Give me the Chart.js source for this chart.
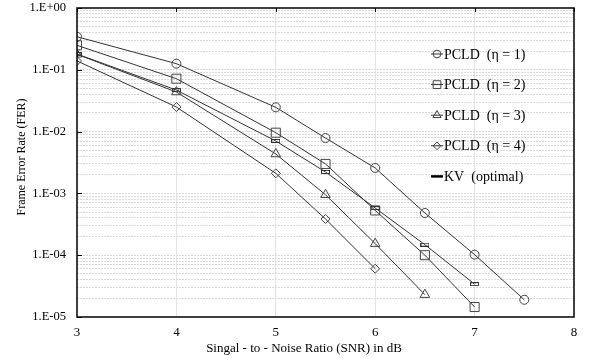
<!DOCTYPE html>
<html><head><meta charset="utf-8">
<script src="https://cdn.jsdelivr.net/npm/chart.js@4"></script>
<style>html,body{margin:0;padding:0;background:#fff}#wrap{width:589px;height:358px;position:relative}</style>
</head><body><div id="wrap"><canvas id="c"></canvas></div>
<script>
// ---- data ----
const snr1 = [3, 4, 5, 5.5, 6, 6.5, 7, 7.5];
const fer1 = [0.343, 0.1256, 0.0247, 0.00787, 0.00258, 0.000482, 0.000102, 0.000019];
const snr2 = [3, 4, 5, 5.5, 6, 6.5, 7];
const fer2 = [0.249, 0.0718, 0.0096, 0.0030, 0.00053, 0.000100, 0.0000145];
const snr3 = [3, 4, 5, 5.5, 6, 6.5];
const fer3 = [0.178, 0.0437, 0.00434, 0.00095, 0.000154, 0.000023];
const snr4 = [3, 4, 5, 5.5, 6];
const fer4 = [0.139, 0.0250, 0.00211, 0.000385, 0.0000605];
const snrKV = [3, 4, 5, 5.5, 6, 6.5, 7];
const ferKV = [0.18, 0.047, 0.00705, 0.00222, 0.00058, 0.000148, 0.000034];
const seriesLabels = ['PCLD  (\u03b7 = 1)', 'PCLD  (\u03b7 = 2)', 'PCLD  (\u03b7 = 3)', 'PCLD  (\u03b7 = 4)', 'KV  (optimal)'];
const xTicks = [3, 4, 5, 6, 7, 8];
const yMajorTicks = [1, 0.1, 0.01, 0.001, 0.0001, 0.00001];
const yTickLabels = ['1.E+00', '1.E-01', '1.E-02', '1.E-03', '1.E-04', '1.E-05'];
const xTitle = 'Singal - to - Noise Ratio (SNR) in dB';
const yTitle = 'Frame Error Rate (FER)';

// all y grid values (majors + minors 2..9 in each decade)
const yAllTicks = [];
yMajorTicks.forEach((m, i) => {
  yAllTicks.push(m);
  if (i > 0) for (let k = 2; k <= 9; k++) yAllTicks.push(m * k);
});

const pts = (xs, ys) => xs.map((x, i) => ({x: x, y: ys[i]}));

// KV marker: small outlined bar
const kvMark = document.createElement('canvas');
kvMark.width = 9; kvMark.height = 4;
(function(){const g = kvMark.getContext('2d'); g.strokeStyle = '#333'; g.lineWidth = 1; g.strokeRect(0.5, 0.5, 8, 3);})();

const FONT = 'Liberation Serif, Times New Roman, serif';
const lineCol = '#333';
const markCol = '#444';

function ds(label, data, style, radius) {
  return {label, data, showLine: true, borderColor: lineCol, borderWidth: 1, tension: 0,
    pointStyle: style, pointRadius: radius, pointHoverRadius: radius,
    pointBorderColor: markCol, pointBackgroundColor: 'rgba(0,0,0,0)', pointBorderWidth: 1};
}

const datasets = [
  ds(seriesLabels[0], pts(snr1, fer1), 'circle', 4.5),
  ds(seriesLabels[1], pts(snr2, fer2), 'rect', 6.4),
  ds(seriesLabels[2], pts(snr3, fer3), 'triangle', 5.5),
  ds(seriesLabels[3], pts(snr4, fer4), 'rectRot', 4.5),
  ds(seriesLabels[4], pts(snrKV, ferKV), kvMark, 4)
];

const decor = {
  id: 'decor',
  afterDraw(chart) {
    const {ctx, chartArea: a, scales: {x, y}} = chart;
    ctx.save();
    ctx.strokeStyle = '#000';
    ctx.lineWidth = 1.5;
    ctx.strokeRect(a.left, a.top, a.right - a.left, a.bottom - a.top);
    ctx.lineWidth = 1;
    yMajorTicks.forEach(v => {
      const py = Math.round(y.getPixelForValue(v)) + 0.5;
      ctx.beginPath(); ctx.moveTo(a.left, py); ctx.lineTo(a.left + 5, py); ctx.stroke();
    });
    xTicks.forEach(v => {
      const px = Math.round(x.getPixelForValue(v)) + 0.5;
      ctx.beginPath(); ctx.moveTo(px, a.top); ctx.lineTo(px, a.top + 4); ctx.stroke();
    });
    // axis titles
    ctx.fillStyle = '#000';
    ctx.textAlign = 'center';
    ctx.textBaseline = 'middle';
    ctx.font = '13px ' + FONT;
    ctx.fillText(xTitle, 304, 349);
    ctx.save();
    ctx.translate(22, 157);
    ctx.rotate(-Math.PI / 2);
    ctx.font = '12px ' + FONT;
    ctx.fillText(yTitle, 0, 0);
    ctx.restore();
    // legend
    const lx = 437, ly0 = 54, dy = 30.6;
    ctx.font = '14px ' + FONT;
    ctx.textAlign = 'left';
    chart.data.datasets.forEach((d, i) => {
      const yy = ly0 + i * dy;
      if (i < 4) {
        ctx.strokeStyle = lineCol; ctx.lineWidth = 1;
        ctx.beginPath(); ctx.moveTo(lx - 6, yy); ctx.lineTo(lx + 6, yy); ctx.stroke();
        ctx.strokeStyle = markCol;
        ctx.fillStyle = 'rgba(0,0,0,0)';
        Chart.helpers.drawPoint(ctx, {pointStyle: d.pointStyle, radius: d.pointRadius * 0.85, rotation: 0, borderWidth: 1}, lx, yy);
      } else {
        ctx.strokeStyle = '#000'; ctx.lineWidth = 2.5;
        ctx.beginPath(); ctx.moveTo(lx - 6, yy); ctx.lineTo(lx + 6, yy); ctx.stroke();
      }
      ctx.fillStyle = '#000';
      ctx.fillText(d.label, lx + 7, yy + 1);
    });
    ctx.restore();
  }
};

new Chart(document.getElementById('c'), {
  type: 'line',
  data: {datasets},
  plugins: [decor],
  options: {
    responsive: true,
    maintainAspectRatio: false,
    animation: false,
    layout: {padding: {top: 8, right: 15, left: 0, bottom: 0}},
    plugins: {legend: {display: false}, tooltip: {enabled: false}},
    scales: {
      x: {
        type: 'linear', min: 3, max: 8,
        afterBuildTicks: s => { s.ticks = xTicks.map(v => ({value: v})); },
        afterFit: s => { s.height = 41; },
        ticks: {color: '#000', font: {family: FONT, size: 13}, padding: 8},
        grid: {drawTicks: false, color: c => (c.tick && (c.tick.value === 3 || c.tick.value === 8)) ? 'rgba(0,0,0,0)' : '#e4e4e4', lineWidth: 1},
        border: {display: false},
        title: {display: false}
      },
      y: {
        type: 'logarithmic', min: 0.00001, max: 1,
        afterBuildTicks: s => { s.ticks = yAllTicks.map(v => ({value: v})); },
        afterFit: s => { s.width = 77; s.paddingTop = 0; s.paddingBottom = 0; },
        ticks: {
          autoSkip: false, color: '#000', font: {family: FONT, size: 12.5}, padding: 11,
          callback: v => { const i = yMajorTicks.indexOf(v); return i >= 0 ? yTickLabels[i] : ''; }
        },
        grid: {drawTicks: false, color: c => (c.tick && (c.tick.value === 1 || c.tick.value === 0.00001)) ? 'rgba(0,0,0,0)' : '#dadada', lineWidth: 1},
        border: {display: false, dash: [2, 1]},
        title: {display: false}
      }
    }
  }
});
</script></body></html>
